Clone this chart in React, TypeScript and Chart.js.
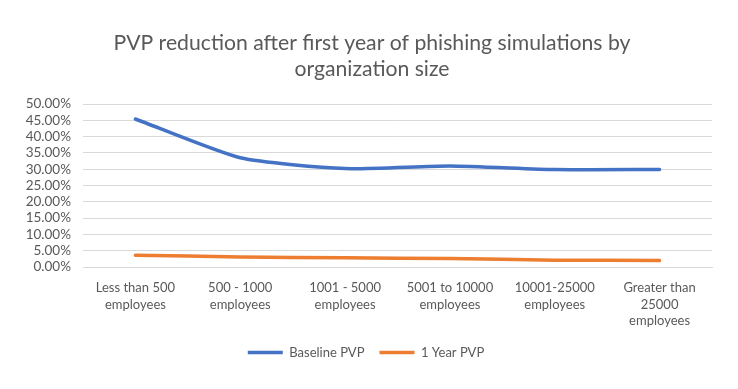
import React, { useEffect, useRef } from "react";
import { Chart, registerables } from "chart.js";

Chart.register(...registerables);

const categories = [
  "Less than 500 employees",
  "500 - 1000 employees",
  "1001 - 5000 employees",
  "5001 to 10000 employees",
  "10001-25000 employees",
  "Greater than 25000 employees",
];
const tickLabels: string[][] = [
  ["Less than 500", "employees"],
  ["500 - 1000", "employees"],
  ["1001 - 5000", "employees"],
  ["5001 to 10000", "employees"],
  ["10001-25000", "employees"],
  ["Greater than", "25000", "employees"],
];
const baselinePVP = [45.4, 33.5, 30.2, 31.0, 29.9, 29.9];
const oneYearPVP = [3.6, 3.1, 2.8, 2.6, 2.1, 2.0];
const titleLines = [
  "PVP reduction after first year of phishing simulations by",
  "organization size",
];

const FONT = "Lato, 'Noto Sans', sans-serif";
const GRAY = "#595959";

const titlePlugin = {
  id: "offsetTitle",
  afterDraw(chart: any) {
    const ctx = chart.ctx;
    ctx.save();
    ctx.fillStyle = GRAY;
    ctx.font = `21.2px ${FONT}`;
    ctx.textAlign = "center";
    ctx.textBaseline = "alphabetic";
    const cx = chart.width / 2 + 3;
    titleLines.forEach((line, i) => {
      ctx.fillText(line, cx, 50 + i * 26);
    });
    ctx.restore();
  },
};

export default function App() {
  const ref = useRef<HTMLCanvasElement | null>(null);
  useEffect(() => {
    if (!ref.current) return;
    const chart = new Chart(ref.current, {
      type: "line",
      data: {
        labels: tickLabels,
        datasets: [
          {
            label: "Baseline PVP",
            data: baselinePVP,
            borderColor: "#4472C4",
            backgroundColor: "#4472C4",
            borderWidth: 3.5,
            pointRadius: 0,
            tension: 0.2,
            borderCapStyle: "round",
          },
          {
            label: "1 Year PVP",
            data: oneYearPVP,
            borderColor: "#ED7D31",
            backgroundColor: "#ED7D31",
            borderWidth: 3.5,
            pointRadius: 0,
            tension: 0.2,
            borderCapStyle: "round",
          },
        ],
      },
      plugins: [titlePlugin],
      options: {
        animation: false,
        responsive: true,
        maintainAspectRatio: false,
        layout: { padding: { left: 20, right: 26, top: 104, bottom: 20 } },
        plugins: {
          title: { display: false },
          legend: {
            position: "bottom",
            labels: {
              usePointStyle: true,
              pointStyle: "line",
              pointStyleWidth: 35,
              color: GRAY,
              font: { family: FONT, size: 13 },
              padding: 15,
            },
          },
          tooltip: { enabled: false },
        },
        scales: {
          x: {
            offset: true,
            grid: { display: false, drawTicks: false },
            border: { display: true, color: "#d9d9d9", width: 1 },
            ticks: {
              color: GRAY,
              font: { family: FONT, size: 13, lineHeight: 1.3 },
              maxRotation: 0,
              autoSkip: false,
              padding: 12,
            },
            afterFit: (s: any) => {
              s.height = 64;
            },
          },
          y: {
            min: 0,
            max: 50,
            ticks: {
              stepSize: 5,
              autoSkip: false,
              color: GRAY,
              font: { family: FONT, size: 13.5 },
              padding: 12,
              callback: (v: any) => Number(v).toFixed(2) + "%",
            },
            grid: { color: "#d9d9d9", drawTicks: false },
            border: { display: false },
            afterFit: (s: any) => {
              s.width = 63;
            },
          },
        },
      },
    });
    return () => chart.destroy();
  }, []);
  return (
    <div style={{ position: "absolute", left: 0, top: 0, width: 738, height: 389, background: "#fff" }}>
      <canvas ref={ref} />
    </div>
  );
}
